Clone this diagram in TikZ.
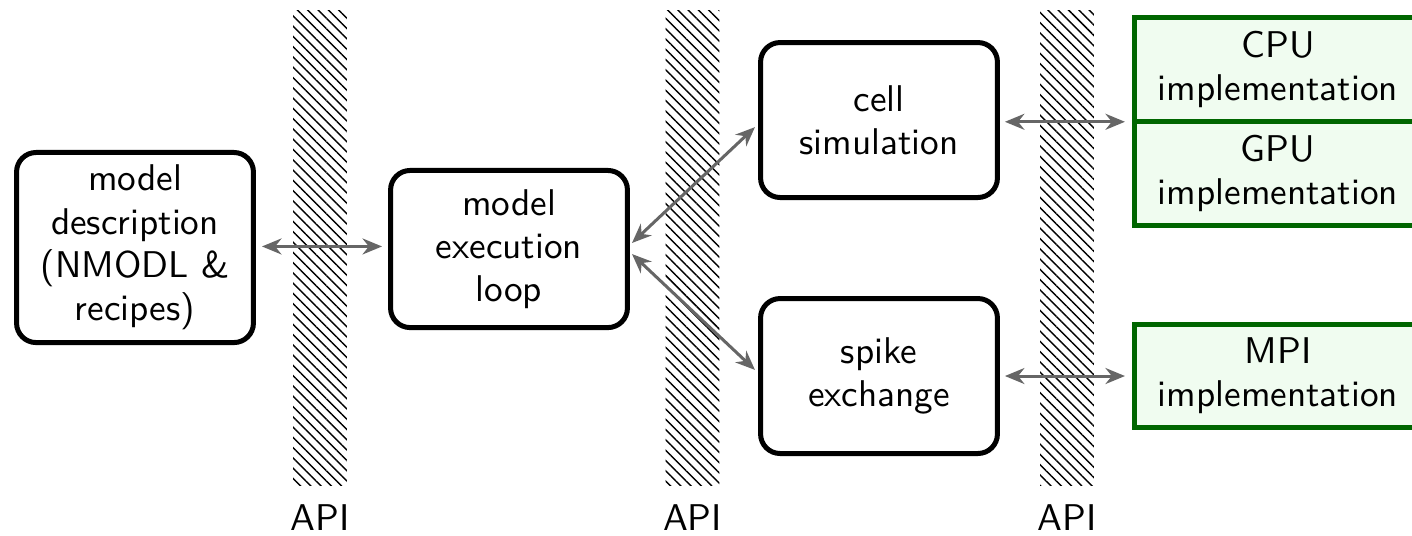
\documentclass[tikz,border=0pt]{standalone}
\usepackage{fontspec}
\usetikzlibrary{arrows.meta,patterns.meta,calc}
\definecolor{implgreen}{HTML}{006600}
\definecolor{implfill}{HTML}{F0FCF0}
\definecolor{connGray}{HTML}{666666}
\begin{document}
\begin{tikzpicture}[x=0.282pt,y=-0.282pt,
  font=\sffamily\fontsize{10.5}{12.2}\selectfont,
  blockbox/.style={draw=black,line width=1.41pt,rounded corners=5.5pt,
    align=center,minimum width=66.8pt,inner sep=0pt},
  implbox/.style={draw=implgreen,fill=implfill,line width=1.41pt,align=center,
    minimum width=80.9pt,minimum height=29.2pt,inner sep=0pt},
  apibar/.style={pattern={Lines[angle=-45,distance=2.05pt,line width=0.4pt]},
    minimum width=15.2pt,minimum height=134.2pt,inner sep=0pt},
  apilabel/.style={anchor=base},
  conn/.style={draw=connGray,line width=0.85pt,
    {Stealth[length=5.5pt,width=4.5pt]}-{Stealth[length=5.5pt,width=4.5pt]}}]

\useasboundingbox (0,0) rectangle (1412,535);
\clip (0,0) rectangle (1412,535);

% API layers
\node[apibar] (api1) at (320,248) {};
\node[apibar] (api2) at (692.5,248) {};
\node[apibar] (api3) at (1067,248) {};
\node[apilabel] (lab1) at (320,530) {API};
\node[apilabel] (lab2) at (692.5,530) {API};
\node[apilabel] (lab3) at (1067,530) {API};

% components
\node[blockbox,minimum height=53.6pt] (desc) at (135,247.5)
  {model\\description\\(NMODL \&\\recipes)};
\node[blockbox,minimum height=44.3pt] (exec) at (509,249)
  {model\\execution\\loop};
\node[blockbox,minimum height=43.7pt] (cell) at (879,120)
  {cell\\simulation};
\node[blockbox,minimum height=43.7pt] (spike) at (879,376)
  {spike\\exchange};

% back-ends
\node[implbox] (cpu) at (1278,69.25) {CPU\\implementation};
\node[implbox] (gpu) at (1278,173.25) {GPU\\implementation};
\node[implbox,minimum height=29.0pt] (mpi) at (1278,376) {MPI\\implementation};

% connections
\draw[conn,shorten <=1.7pt,shorten >=1.7pt]
  ([yshift=0.3pt]desc.east) -- ([yshift=0.3pt]desc.east -| exec.west);
\draw[conn,shorten <=0.8pt,shorten >=1.2pt]
  ([yshift=1.16pt]exec.east) -- ([yshift=-1.18pt]cell.west);
\draw[conn,shorten <=0.8pt,shorten >=1.2pt]
  ([yshift=-0.87pt]exec.east) -- ([yshift=0.9pt]spike.west);
\draw[conn,shorten <=1.4pt,shorten >=2pt]
  ([yshift=-0.5pt]cell.east) -- ([yshift=-0.5pt]cell.east -| cpu.west);
\draw[conn,shorten <=1.4pt,shorten >=2pt]
  (spike.east) -- (spike.east -| mpi.west);
\end{tikzpicture}
\end{document}
